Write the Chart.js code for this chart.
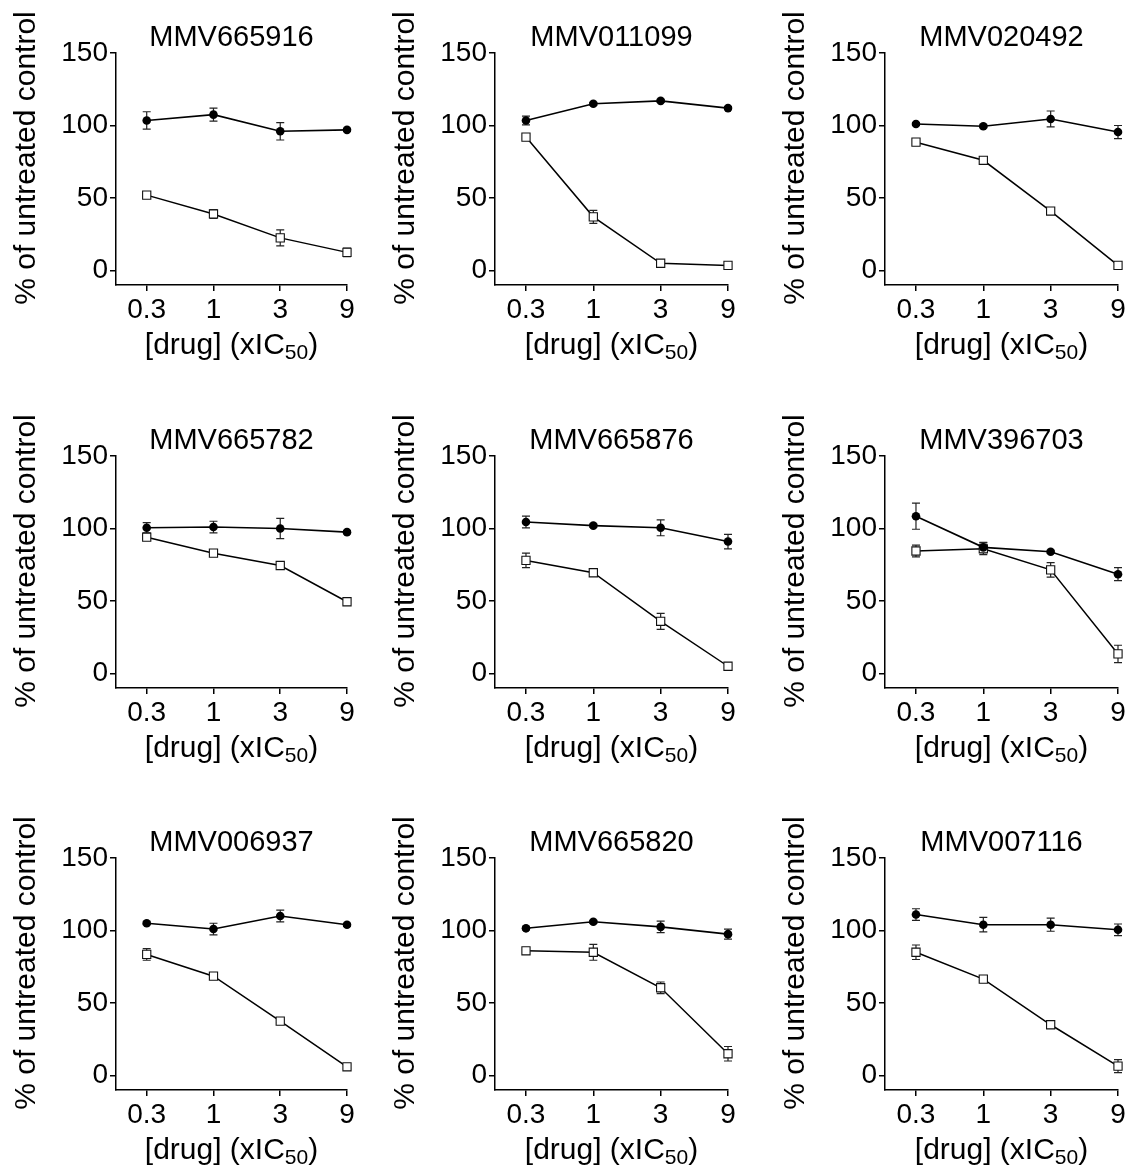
<!DOCTYPE html>
<html>
<head>
<meta charset="utf-8">
<script src="https://cdn.jsdelivr.net/npm/chart.js@4.4.0/dist/chart.umd.min.js"></script>
<style>
    body { margin: 0; background: #fff; overflow: hidden; }
    #wrap { position: relative; width: 1129px; height: 1172px; }
    canvas { position: absolute; }
</style>
</head>
<body>
<div id="wrap"></div>
<script>
// doses on the x axis (xIC50), drawn evenly spaced
var doses = ['0.3', '1', '3', '9'];
var yTicks = [0, 50, 100, 150];

var compounds = ['MMV665916', 'MMV011099', 'MMV020492',
                 'MMV665782', 'MMV665876', 'MMV396703',
                 'MMV006937', 'MMV665820', 'MMV007116'];

// filled circles
var circleMeans = [
    [103.5, 107.5, 96, 97],
    [103.5, 115, 117, 112],
    [101, 99.5, 104.5, 95.5],
    [100.5, 101, 100, 97.5],
    [104.5, 102, 100.5, 91],
    [108.5, 87, 84, 68.5],
    [105, 101, 110, 104],
    [101.5, 106, 102.5, 97.5],
    [111, 104, 104, 100.5]
];
var circleErrors = [
    [6, 4.5, 6, 1],
    [3, 1, 1, 1],
    [1, 1, 5.5, 4.5],
    [3.5, 4, 7, 1],
    [4, 1, 5.5, 5],
    [9, 3.5, 1, 4.5],
    [1, 4, 4, 1],
    [1, 1, 4, 3.5],
    [4, 5, 4.5, 4]
];

// open squares
var squareMeans = [
    [52, 39, 22.5, 12.5],
    [92, 37, 5, 3.5],
    [88.5, 76, 41, 3.5],
    [94, 83, 74.5, 49.5],
    [78, 69.5, 36, 5],
    [84.5, 86, 71.5, 13.5],
    [83.5, 68.5, 37.5, 6],
    [86, 85, 60.5, 15],
    [85, 66.5, 35, 6.5]
];
var squareErrors = [
    [1, 3, 5.5, 3],
    [1, 4.5, 1, 1],
    [1, 1, 1.5, 1],
    [1, 1, 1, 1],
    [5, 1, 5.5, 1],
    [4, 4, 5, 6],
    [4, 1, 1, 1],
    [1, 5.5, 4, 5],
    [5, 1, 1, 4.5]
];

// panel layout
var colLeft = [116, 495, 885];
var colWidth = [231, 233, 233];
var rowTop = [53, 456, 858];
var AXIS_W = 116, TOP_H = 53, PLOT_H = 232, BOTTOM_H = 80, RIGHT_PAD = 11;
var FONT = "'Liberation Sans', Arial, sans-serif";

Chart.defaults.font.family = FONT;
Chart.defaults.color = '#000';

var errorBars = {
    id: 'errorBars',
    beforeDatasetsDraw(chart) {
        var ctx = chart.ctx;
        var y = chart.scales.y;
        ctx.save();
        ctx.strokeStyle = '#222';
        ctx.lineWidth = 1.2;
        chart.data.datasets.forEach(function (ds, i) {
            var meta = chart.getDatasetMeta(i);
            ds.errors.forEach(function (e, j) {
                var px = meta.data[j].x;
                var v = ds.data[j].y;
                var top = y.getPixelForValue(v + e);
                var bot = y.getPixelForValue(v - e);
                ctx.beginPath();
                ctx.moveTo(px, top); ctx.lineTo(px, bot);
                ctx.moveTo(px - 4, top); ctx.lineTo(px + 4, top);
                ctx.moveTo(px - 4, bot); ctx.lineTo(px + 4, bot);
                ctx.stroke();
            });
        });
        ctx.restore();
    }
};

var axisTitles = {
    id: 'axisTitles',
    afterDraw(chart) {
        var ctx = chart.ctx, a = chart.chartArea;
        ctx.save();
        ctx.fillStyle = '#000';
        ctx.translate(27, (a.top + a.bottom) / 2 - 11);
        ctx.rotate(-Math.PI / 2);
        ctx.font = '30px ' + FONT;
        ctx.textAlign = 'center';
        ctx.textBaseline = 'middle';
        ctx.fillText('% of untreated control', 0, 0);
        ctx.restore();

        ctx.save();
        ctx.fillStyle = '#000';
        ctx.textBaseline = 'alphabetic';
        ctx.textAlign = 'left';
        var main = '[drug] (xIC', sub = '50', end = ')';
        ctx.font = '30px ' + FONT;
        var w1 = ctx.measureText(main).width, w3 = ctx.measureText(end).width;
        ctx.font = '21px ' + FONT;
        var w2 = ctx.measureText(sub).width;
        var x0 = (a.left + a.right) / 2 - (w1 + w2 + w3) / 2;
        var base = a.bottom + 69;
        ctx.font = '30px ' + FONT;
        ctx.fillText(main, x0, base);
        ctx.font = '21px ' + FONT;
        ctx.fillText(sub, x0 + w1, base + 5);
        ctx.font = '30px ' + FONT;
        ctx.fillText(end, x0 + w1 + w2, base);
        ctx.restore();
    }
};

var axisLine = { display: true, color: '#000', width: 1.5 };
var tickMarks = { drawOnChartArea: false, drawTicks: true, tickLength: 6, color: '#000', lineWidth: 1.5 };

function toPoints(arr) {
    return arr.map(function (v, j) { return { x: j, y: v }; });
}

function makePanel(k) {
    var row = Math.floor(k / 3), col = k % 3;
    var canvas = document.createElement('canvas');
    canvas.width = AXIS_W + colWidth[col] + RIGHT_PAD;
    canvas.height = TOP_H + PLOT_H + BOTTOM_H;
    canvas.style.left = (colLeft[col] - AXIS_W) + 'px';
    canvas.style.top = (rowTop[row] - TOP_H) + 'px';
    document.getElementById('wrap').appendChild(canvas);

    // first dataset is drawn last, so circles sit on top of squares
    new Chart(canvas, {
        type: 'line',
        data: {
            datasets: [{
                data: toPoints(circleMeans[k]),
                errors: circleErrors[k],
                borderColor: '#000',
                borderWidth: 1.6,
                pointStyle: 'circle',
                pointRadius: 4.3,
                pointBackgroundColor: '#000',
                pointBorderColor: '#000',
                pointBorderWidth: 0,
                clip: false
            }, {
                data: toPoints(squareMeans[k]),
                errors: squareErrors[k],
                borderColor: '#000',
                borderWidth: 1.5,
                pointStyle: 'rect',
                pointRadius: 5.8,
                pointBackgroundColor: '#fff',
                pointBorderColor: '#111',
                pointBorderWidth: 1.1,
                clip: false
            }]
        },
        options: {
            responsive: false,
            animation: false,
            devicePixelRatio: 1,
            events: [],
            layout: { padding: { left: 0, right: RIGHT_PAD, top: 0, bottom: 0 } },
            plugins: {
                legend: { display: false },
                tooltip: { enabled: false },
                title: {
                    display: true,
                    text: compounds[k],
                    fullSize: false,
                    color: '#000',
                    font: { size: 29, weight: 'normal', lineHeight: 1 },
                    padding: { top: 23.5, bottom: 0.5 }
                }
            },
            scales: {
                x: {
                    type: 'linear',
                    min: -0.46,
                    max: 3,
                    afterBuildTicks: function (s) { s.ticks = doses.map(function (d, i) { return { value: i }; }); },
                    afterFit: function (s) { s.height = BOTTOM_H; },
                    ticks: {
                        callback: function (v, i) { return doses[i]; },
                        font: { size: 28 },
                        padding: 2,
                        maxRotation: 0,
                        autoSkip: false,
                        color: '#000'
                    },
                    grid: tickMarks,
                    border: axisLine
                },
                y: {
                    min: -10,
                    max: 150,
                    afterBuildTicks: function (s) { s.ticks = yTicks.map(function (v) { return { value: v }; }); },
                    afterFit: function (s) { s.width = AXIS_W; },
                    ticks: { font: { size: 28 }, padding: 2, color: '#000' },
                    grid: tickMarks,
                    border: axisLine
                }
            }
        },
        plugins: [errorBars, axisTitles]
    });
}

for (var k = 0; k < compounds.length; k++) {
    makePanel(k);
}
</script>
</body>
</html>
